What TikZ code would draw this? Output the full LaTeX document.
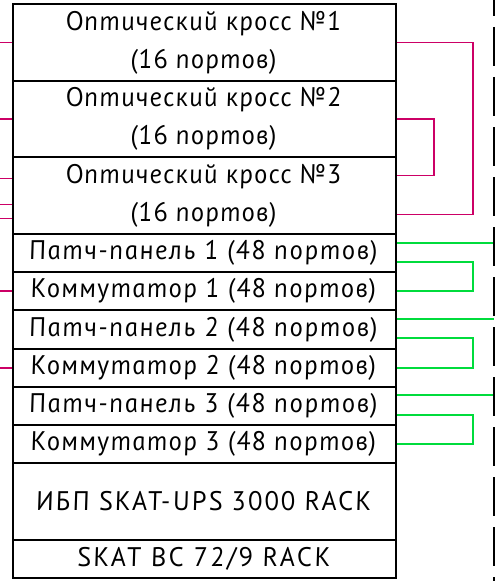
\documentclass[tikz,border=0pt]{standalone}
\usepackage{fontspec}
\newfontfamily\gostfont{PT Sans}[ItalicFeatures={FakeSlant=-0.18}]
\usetikzlibrary{calc}
\definecolor{mag}{RGB}{204,0,102}
\definecolor{grn}{RGB}{0,220,60}
\begin{document}
\begin{tikzpicture}[x=1bp,y=-1bp,
  box/.style={draw, line width=1.5bp, minimum width=383bp, inner sep=0pt, align=center,
    font=\gostfont\itshape\fontsize{27}{38}\selectfont\addfontfeatures{LetterSpace=#1}},
  box/.default=4,
  magl/.style={draw=mag, line width=1.4bp},
  grnl/.style={draw=grn, line width=1.6bp},
  dashl/.style={draw=black, line width=2bp, dash pattern=on 39bp off 11bp, dash phase=23bp}]
\useasboundingbox (0,0) rectangle (496,581);
\coordinate (lft) at (0,0);
\coordinate (xr1) at (473,0);
\coordinate (xr2) at (434,0);
\coordinate (dtop) at (494,0);
\coordinate (dbot) at (494,581);
% boxes
\node[box, minimum height=77bp] (k1) at (204.5,42.5) {Оптический кросс №1\\(16 портов)};
\node[box, minimum height=76bp] (k2) at (204.5,119) {Оптический кросс №2\\(16 портов)};
\node[box, minimum height=77bp] (k3) at (204.5,195.5) {Оптический кросс №3\\(16 портов)};
\node[box=5.8, minimum height=38bp] (pp1) at (204.5,253) {Патч-панель 1 (48 портов)};
\node[box=4.8, minimum height=38bp] (sw1) at (204.5,291) {Коммутатор 1 (48 портов)};
\node[box=5.8, minimum height=39bp] (pp2) at (204.5,329.5) {Патч-панель 2 (48 портов)};
\node[box=4.8, minimum height=38bp] (sw2) at (204.5,368) {Коммутатор 2 (48 портов)};
\node[box=5.8, minimum height=38bp] (pp3) at (204.5,406) {Патч-панель 3 (48 портов)};
\node[box=4.8, minimum height=38bp] (sw3) at (204.5,444) {Коммутатор 3 (48 портов)};
\node[box=9, minimum height=77bp] (ups) at (204.5,501.5) {ИБП SKAT-UPS 3000 RACK};
\node[box=10.3, minimum height=38bp] (bat) at (204.5,559) {SKAT BC 72/9 RACK};
% left magenta stubs
\draw[magl] (k1.west) -- (k1.west -| lft);
\draw[magl] (k2.west) -- (k2.west -| lft);
\path ($(k3.north west)+(0,22)$) coordinate (k3a)
      ($(k3.north west)+(0,48)$) coordinate (k3b)
      ($(k3.north west)+(0,62)$) coordinate (k3c)
      ($(k3.north east)+(0,19)$) coordinate (k3d)
      ($(k3.north east)+(0,58)$) coordinate (k3e);
\draw[magl] (k3a) -- (k3a -| lft);
\draw[magl] (k3b) -- (k3b -| lft);
\draw[magl] (k3c) -- (k3c -| lft);
\draw[magl] (sw1.west) -- (sw1.west -| lft);
\draw[magl] (sw2.west) -- (sw2.west -| lft);
% right magenta brackets
\draw[magl] (k1.east) -- (k1.east -| xr1) |- (k3e);
\draw[magl] (k2.east) -- (k2.east -| xr2) |- (k3d);
% green
\path ($(pp1.north east)+(0,10)$) coordinate (p1a)
      ($(pp1.north east)+(0,29)$) coordinate (p1b)
      ($(pp2.north east)+(0,10)$) coordinate (p2a)
      ($(pp2.north east)+(0,29)$) coordinate (p2b)
      ($(pp3.north east)+(0,9)$) coordinate (p3a)
      ($(pp3.north east)+(0,29)$) coordinate (p3b);
\draw[grnl] (p1a) -- (p1a -| dtop);
\draw[grnl] (p1b) -- (p1b -| xr1) |- (sw1.east);
\draw[grnl] (p2a) -- (p2a -| dtop);
\draw[grnl] (p2b) -- (p2b -| xr1) |- (sw2.east);
\draw[grnl] (p3a) -- (p3a -| dtop);
\draw[grnl] (p3b) -- (p3b -| xr1) |- (sw3.east);
% dashed boundary
\draw[dashl] (dtop) -- (dbot);
\end{tikzpicture}
\end{document}
